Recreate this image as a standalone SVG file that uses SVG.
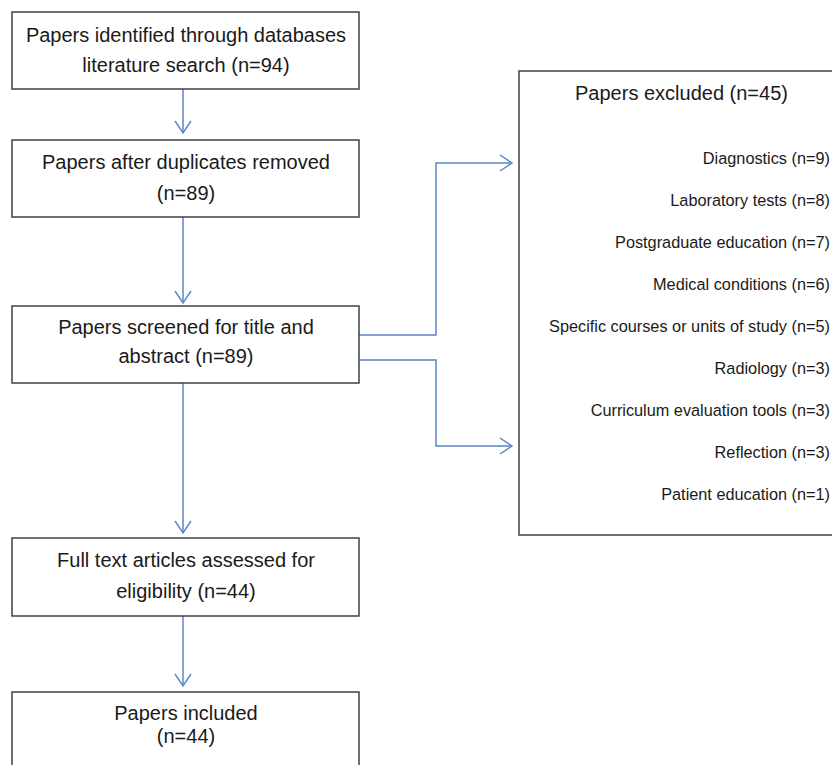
<svg xmlns="http://www.w3.org/2000/svg" width="832" height="765" viewBox="0 0 832 765">
<style>
.box{fill:#fff;stroke:#404040;stroke-width:1.5}
.t{font-family:"Liberation Sans",Arial,sans-serif;font-size:20px;fill:#1a1a1a;text-anchor:middle}
.s{font-family:"Liberation Sans",Arial,sans-serif;font-size:16.3px;fill:#1a1a1a;text-anchor:end}
.c{fill:none;stroke:#5b87c5;stroke-width:1.5}
</style>
<defs>
<marker id="ah" viewBox="-13 -9 15 18" refX="0" refY="0" markerWidth="15" markerHeight="18" markerUnits="userSpaceOnUse" orient="auto">
<path d="M-12,-8 L0,0 L-12,8" fill="none" stroke="#5b87c5" stroke-width="1.5"/>
</marker>
</defs>
<rect width="832" height="765" fill="#fff"/>
<g id="connectors">
<path class="c" d="M183,89 V133" marker-end="url(#ah)"/>
<path class="c" d="M183,217 V303" marker-end="url(#ah)"/>
<path class="c" d="M183,383 V533" marker-end="url(#ah)"/>
<path class="c" d="M183,616 V686" marker-end="url(#ah)"/>
<path class="c" d="M359,335 H436 V163 H512" marker-end="url(#ah)"/>
<path class="c" d="M359,360 H436 V446 H512" marker-end="url(#ah)"/>
</g>
<g id="identified">
<rect class="box" x="12" y="12" width="347" height="77"/>
<text class="t" x="186" y="42">Papers identified through databases</text>
<text class="t" x="186" y="72">literature search (n=94)</text>
</g>
<g id="duplicates">
<rect class="box" x="12" y="140" width="347" height="77"/>
<text class="t" x="186" y="169">Papers after duplicates removed</text>
<text class="t" x="186" y="200">(n=89)</text>
</g>
<g id="screened">
<rect class="box" x="12" y="306" width="347" height="77"/>
<text class="t" x="186" y="334">Papers screened for title and</text>
<text class="t" x="186" y="363">abstract (n=89)</text>
</g>
<g id="fulltext">
<rect class="box" x="12" y="538" width="347" height="78"/>
<text class="t" x="186" y="567">Full text articles assessed for</text>
<text class="t" x="186" y="598">eligibility (n=44)</text>
</g>
<g id="included">
<rect class="box" x="12" y="692" width="347" height="90"/>
<text class="t" x="186" y="720">Papers included</text>
<text class="t" x="186" y="743">(n=44)</text>
</g>
<g id="excluded">
<rect class="box" x="519" y="71" width="330" height="464"/>
<text class="t" x="681.5" y="100">Papers excluded (n=45)</text>
<text class="s" x="830" y="164">Diagnostics (n=9)</text>
<text class="s" x="830" y="206">Laboratory tests (n=8)</text>
<text class="s" x="830" y="248">Postgraduate education (n=7)</text>
<text class="s" x="830" y="290">Medical conditions (n=6)</text>
<text class="s" x="830" y="332">Specific courses or units of study (n=5)</text>
<text class="s" x="830" y="374">Radiology (n=3)</text>
<text class="s" x="830" y="416">Curriculum evaluation tools (n=3)</text>
<text class="s" x="830" y="458">Reflection (n=3)</text>
<text class="s" x="830" y="500">Patient education (n=1)</text>
</g>
</svg>
